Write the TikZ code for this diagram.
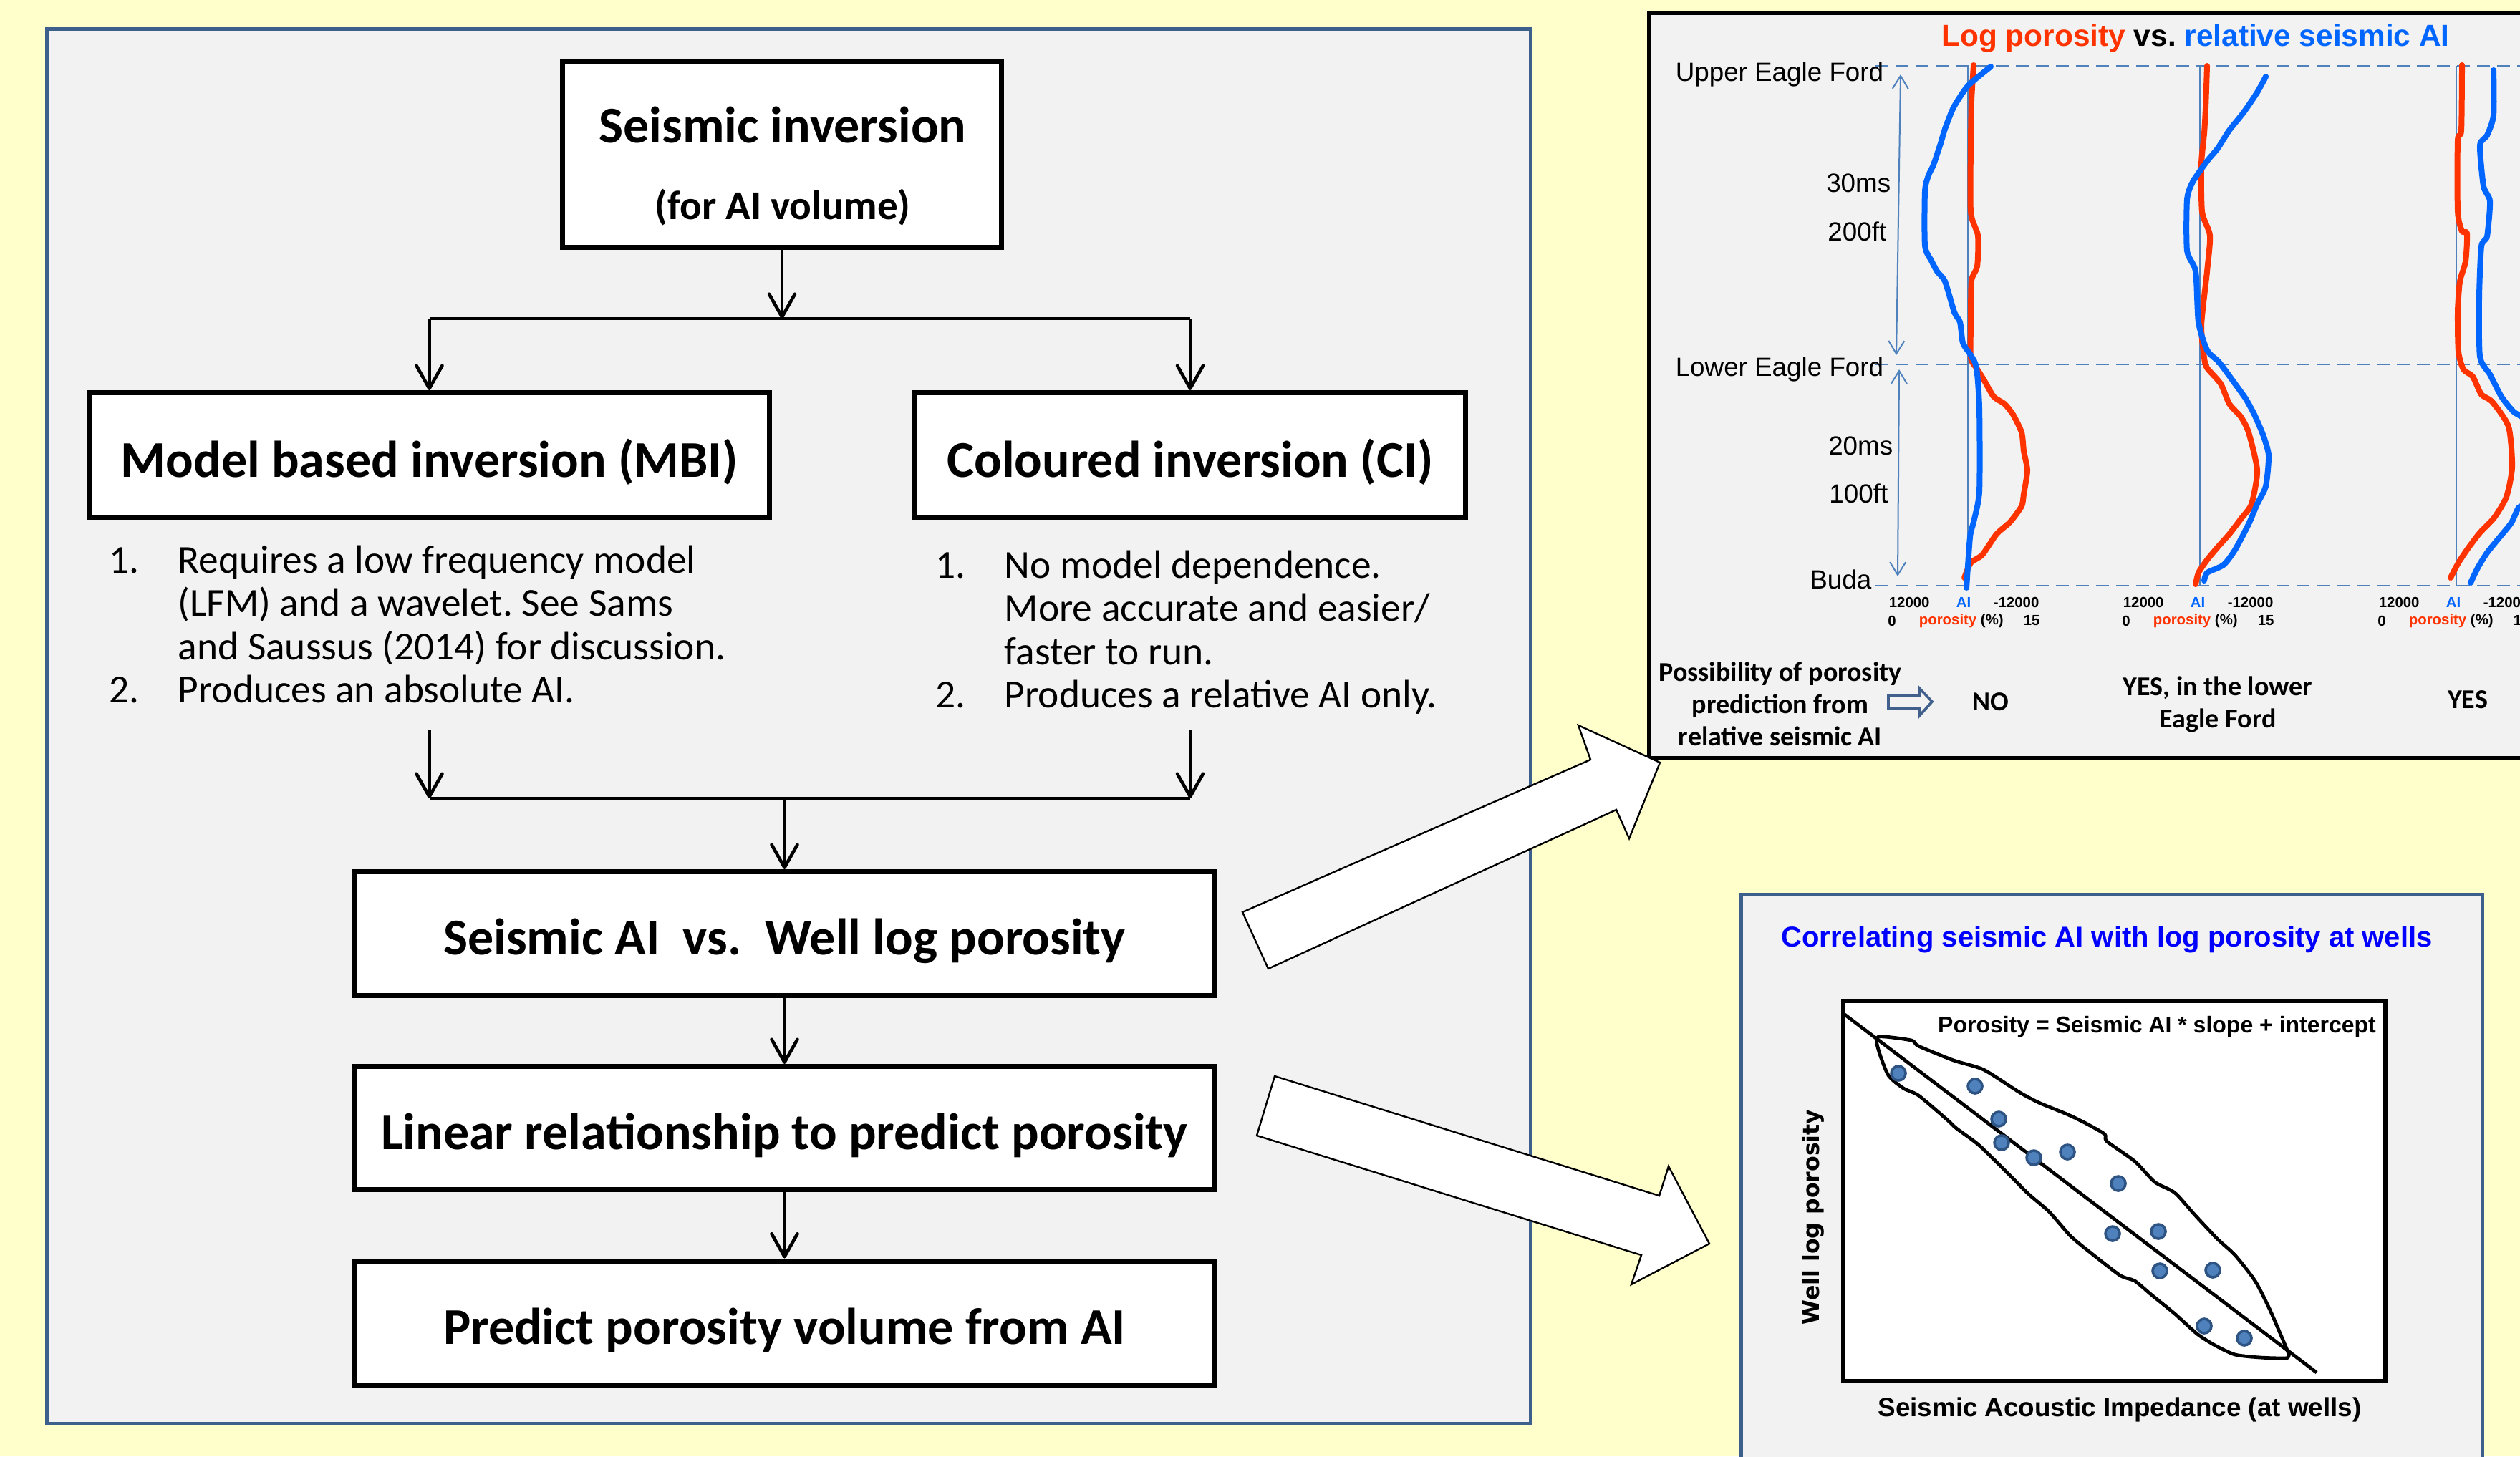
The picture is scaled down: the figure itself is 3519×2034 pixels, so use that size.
\documentclass[tikz,border=0pt]{standalone}
\usepackage{fontspec}
\setmainfont{Carlito}
\newfontfamily\arialf{Liberation Sans}
\newfontfamily\dejavuf{DejaVu Sans}
\usetikzlibrary{arrows.meta}
\definecolor{bgyellow}{HTML}{FFFFCC}
\definecolor{panelgray}{HTML}{F2F2F2}
\definecolor{panelblue}{HTML}{3C5F8C}
\definecolor{porored}{HTML}{FF3300}
\definecolor{aiblue}{HTML}{0066FF}
\definecolor{guideblue}{HTML}{4F81BD}
\definecolor{titleblue}{HTML}{0000FF}
\definecolor{dotfill}{HTML}{4F81BD}
\definecolor{dotedge}{HTML}{2E5484}
\definecolor{hollowblue}{HTML}{41618C}
\newcommand{\lowtext}[1]{\raisebox{-2.5pt}[\height][\depth]{#1}}
\frenchspacing
\begin{document}
\begin{tikzpicture}[x=0.25pt,y=-0.25pt,
  flowbox/.style={draw=black,line width=1.75pt,fill=white,inner sep=0pt,font=\fontsize{18}{21.6}\selectfont\bfseries},
  flowarrow/.style={line width=1.15pt,-{Straight Barb[length=8pt,width=9pt,round]}},
  flowline/.style={line width=1.05pt},
  listtext/.style={anchor=base west,inner sep=0pt,font=\fontsize{13.85}{15.125}\selectfont},
  zonelabel/.style={anchor=east,inner sep=0pt,font=\arialf\fontsize{9.2}{11}\selectfont},
  ticklabel/.style={inner sep=0pt,font=\arialf\bfseries\fontsize{5.1}{6}\selectfont},
  verdict/.style={inner sep=0pt,align=center,font=\fontsize{9.5}{11.2}\selectfont\bfseries},
  redcurve/.style={porored,line width=2pt,line join=round,line cap=round},
  bluecurve/.style={aiblue,line width=2pt,line join=round,line cap=round},
  zoneline/.style={guideblue,line width=0.6pt,dash pattern=on 4.5pt off 2.5pt},
  trackline/.style={guideblue,line width=0.5pt},
  spanarrow/.style={guideblue,line width=0.5pt,{Straight Barb[length=4.5pt,width=5.5pt]}-{Straight Barb[length=4.5pt,width=5.5pt]}},
  bigarrow/.style={draw=black,line width=0.6pt,fill=white,line join=miter},
  welldot/.style={circle,fill=dotfill,draw=dotedge,line width=0.9pt,minimum size=5pt,inner sep=0pt}
]
\useasboundingbox (0,0) rectangle (3519,2034);
\begin{scope}
\clip (0,0) rectangle (3519,2034);
\fill[bgyellow] (0,0) rectangle (3519,2034);

% ---------------- left panel ----------------
\draw[panelblue,line width=1.25pt,fill=panelgray] (65,40) rectangle (2137,1988);

\node[flowbox,minimum width=153.25pt,minimum height=65pt] (inv) at (1092,215.5) {};
\node[inner sep=0pt,font=\fontsize{18}{21.6}\selectfont\bfseries] (invtitle) at (1093,175) {Seismic inversion};
\node[inner sep=0pt,font=\fontsize{14.3}{17}\selectfont\bfseries] (invsub) at (1093,290) {(for AI volume)};

\node[flowbox,minimum width=237.5pt,minimum height=43.5pt] (mbi) at (599.5,635.5) {\lowtext{Model based inversion (MBI)}};
\node[flowbox,minimum width=192.25pt,minimum height=43.5pt] (ci) at (1662,635.5) {\lowtext{Coloured inversion (CI)}};

\node[listtext] (mbilist) at (152,800) {\begin{tabular}[t]{@{}p{24pt}@{}l@{}}
1. & Requires a low frequency model\\
   & (LFM) and a wavelet. See Sams\\
   & and Saussus (2014) for discussion.\\
2. & Produces an absolute AI.
\end{tabular}};
\node[listtext] (cilist) at (1306,807) {\begin{tabular}[t]{@{}p{24pt}@{}l@{}}
1. & No model dependence.\\
   & More accurate and easier/\\
   & faster to run.\\
2. & Produces a relative AI only.
\end{tabular}};

\node[flowbox,minimum width=300.5pt,minimum height=43.25pt] (avw) at (1095.5,1304) {\lowtext{Seismic AI~ vs.~ Well log porosity}};
\node[flowbox,minimum width=300.5pt,minimum height=43pt] (lin) at (1095.5,1575.5) {\lowtext{Linear relationship to predict porosity}};
\node[flowbox,minimum width=300.5pt,minimum height=43.25pt] (pred) at (1095.5,1847.5) {\lowtext{Predict porosity volume from AI}};

\coordinate (topjoin) at (1092,445);
\coordinate (leftsplit) at (599.5,445);
\coordinate (rightsplit) at (1662,445);
\draw[flowarrow] (inv.south) -- (topjoin);
\draw[flowline] (leftsplit) -- (rightsplit);
\draw[flowarrow] (leftsplit) -- (mbi.north);
\draw[flowarrow] (rightsplit) -- (ci.north);

\coordinate (mbiout) at (599.5,1020);
\coordinate (ciout) at (1662,1020);
\coordinate (leftmerge) at (599.5,1115);
\coordinate (rightmerge) at (1662,1115);
\coordinate (midmerge) at (1095.5,1115);
\draw[flowarrow] (mbiout) -- (leftmerge);
\draw[flowarrow] (ciout) -- (rightmerge);
\draw[flowline] (leftmerge) -- (rightmerge);
\draw[flowarrow] (midmerge) -- (avw.north);
\draw[flowarrow] (avw.south) -- (lin.north);
\draw[flowarrow] (lin.south) -- (pred.north);

% ---------------- top-right panel ----------------
\draw[black,line width=1.4pt,fill=panelgray] (2303,18) rectangle (3600,1059);
\node[inner sep=0pt,font=\arialf\bfseries\fontsize{10.6}{12.7}\selectfont] (logtitle) at (3066,54)
  {\textcolor{porored}{Log porosity} vs. \textcolor{aiblue}{relative seismic AI}};

\draw[zoneline] (2619,92) -- (3600,92);
\draw[zoneline] (2619,509) -- (3600,509);
\draw[zoneline] (2619,818) -- (3600,818);
\draw[trackline] (2748,92) -- (2748,818);
\draw[trackline] (3072,92) -- (3072,818);
\draw[trackline] (3430,92) -- (3430,818);
\draw[spanarrow] (2654,104) -- (2648,496);
\draw[spanarrow] (2652,516) -- (2650,805);

\node[zonelabel] (upperef) at (2631,104) {Upper Eagle Ford};
\node[zonelabel] (thirtyms) at (2641,256) {30ms};
\node[zonelabel] (twohundredft) at (2635,323) {200ft};
\node[zonelabel] (loweref) at (2631,516) {Lower Eagle Ford};
\node[zonelabel] (twentyms) at (2644,623) {20ms};
\node[zonelabel] (hundredft) at (2637,689) {100ft};
\node[zonelabel] (buda) at (2614,809) {Buda};

% track 1
\draw[redcurve] plot[smooth,tension=0.4] coordinates {(2756,91) (2753,140) (2752,200) (2752,296) (2762,329) (2761,372) (2753,392) (2752,450) (2752,500) (2760,514) (2770,530) (2784,554) (2799,564) (2811,579) (2823,604) (2826,630) (2831,657) (2826,690) (2823,707) (2807,729) (2788,746) (2768,775) (2752,786) (2743,807)};
\draw[bluecurve] plot[smooth,tension=0.4] coordinates {(2780,93) (2748,120) (2728,150) (2716,180) (2710,200) (2700,230) (2693,245) (2688,267) (2688,343) (2697,364) (2705,379) (2716,393) (2729,436) (2737,450) (2741,479) (2752,496) (2760,514) (2764,571) (2764,686) (2756,729) (2751,750) (2746,821)};
% track 2
\draw[redcurve] plot[smooth,tension=0.4] coordinates {(3082,92) (3080,150) (3078,186) (3074,229) (3075,296) (3086,329) (3082,379) (3074,454) (3078,500) (3082,514) (3101,536) (3113,564) (3129,582) (3140,604) (3152,657) (3144,704) (3129,725) (3113,746) (3097,764) (3082,782) (3070,800) (3066,816)};
\draw[bluecurve] plot[smooth,tension=0.4] coordinates {(3164,107) (3152,129) (3133,157) (3113,182) (3097,207) (3082,225) (3062,254) (3054,279) (3054,350) (3066,379) (3070,450) (3082,489) (3097,504) (3105,514) (3121,536) (3136,557) (3148,579) (3160,607) (3168,636) (3164,679) (3152,704) (3140,732) (3121,768) (3105,789) (3082,800) (3078,811)};
% track 3
\draw[redcurve] plot[smooth,tension=0.4] coordinates {(3438,91) (3437,182) (3432,196) (3432,295) (3438,323) (3445,326) (3443,365) (3435,393) (3432,435) (3433,491) (3440,516) (3453,526) (3465,551) (3480,561) (3503,596) (3508,652) (3500,694) (3483,723) (3463,744) (3447,765) (3433,786) (3422,807)};
\draw[bluecurve] plot[smooth,tension=0.4] coordinates {(3482,98) (3482,161) (3473,189) (3463,203) (3468,260) (3477,281) (3473,330) (3465,344) (3462,414) (3463,498) (3477,523) (3493,554) (3510,575) (3530,590) (3545,640) (3530,700) (3517,709) (3507,730) (3490,751) (3473,772) (3460,793) (3450,814)};

\foreach \dx/\n in {0/one,327/two,684/three}{
  \node[ticklabel,anchor=west] (aimax\n) at (2637+\dx,841) {12000};
  \node[ticklabel,text=aiblue] (ailab\n) at (2742+\dx,841) {AI};
  \node[ticklabel,anchor=west] (aimin\n) at (2783+\dx,841) {-12000};
  \node[ticklabel] (pormin\n) at (2642+\dx,867) {0};
  \node[ticklabel,anchor=west] (porlab\n) at (2679+\dx,867) {\textcolor{porored}{porosity} (\%)};
  \node[ticklabel,anchor=west] (pormax\n) at (2825+\dx,867) {15};
}

\node[verdict] (possib) at (2486,983) {Possibility of porosity\\prediction from\\relative seismic AI};
\draw[hollowblue,line width=0.9pt,line join=miter] (2637,971) -- (2680,971) -- (2680,961) -- (2698,980) -- (2680,1000) -- (2680,989) -- (2637,989) -- cycle;
\node[verdict] (vno) at (2780,980) {NO};
\node[verdict,font=\fontsize{9.5}{11.25}\selectfont\bfseries] (vlower) at (3097,984) {YES, in the lower\\Eagle Ford};
\node[verdict] (vyes) at (3446,977) {YES};

% ---------------- bottom-right panel ----------------
\draw[panelblue,line width=1.25pt,fill=panelgray] (2431,1249) rectangle (3466,2100);
\node[inner sep=0pt,text=titleblue,font=\arialf\bfseries\fontsize{10}{12}\selectfont] (corrtitle) at (2942,1312) {Correlating seismic AI with log porosity at wells};
\draw[black,line width=1.5pt,fill=white] (2574,1398) rectangle (3331,1929);
\node[inner sep=0pt,font=\arialf\bfseries\fontsize{8}{9.6}\selectfont] (equation) at (3012,1434) {Porosity = Seismic AI * slope + intercept};
\draw[black,line width=1.2pt] (2576,1417) -- (3235,1917);
\draw[black,line width=1.2pt,line join=round] plot[smooth cycle,tension=0.4] coordinates {(2623,1448) (2669,1453) (2679,1461) (2728,1481) (2770,1494) (2819,1525) (2847,1540) (2886,1556) (2911,1568) (2939,1584) (2942,1594) (2981,1622) (3009,1651) (3037,1666) (3065,1697) (3096,1730) (3121,1753) (3149,1789) (3170,1830) (3194,1886) (3196,1894) (3191,1897) (3156,1896) (3121,1892) (3093,1879) (3068,1863) (3037,1835) (3005,1809) (2981,1789) (2960,1781) (2911,1743) (2890,1725) (2861,1692) (2833,1668) (2805,1640) (2763,1599) (2732,1576) (2718,1563) (2679,1530) (2658,1520) (2637,1502) (2623,1466)};
\foreach \px/\py [count=\k] in {2651/1499,2758/1517,2791/1563,2795/1596,2840/1617,2887/1609,2958/1653,2950/1723,3014/1720,3016/1775,3090/1774,3078/1852,3134/1869}{
  \node[welldot] (well\k) at (\px,\py) {};
}
\node[inner sep=0pt,font=\arialf\bfseries\fontsize{9.2}{11}\selectfont] (xlabel) at (2960,1969) {Seismic Acoustic Impedance (at wells)};
\node[inner sep=0pt,rotate=90,font=\dejavuf\bfseries\fontsize{7.9}{9.5}\selectfont] (ylabel) at (2532,1700) {Well log porosity};

% ---------------- big hollow arrows ----------------
\draw[bigarrow] (1735,1274) -- (1771,1353) -- (2257,1131) -- (2275,1171) -- (2318,1065) -- (2204,1013) -- (2221,1061) -- cycle;
\draw[bigarrow] (1780,1503) -- (2317,1670) -- (2330,1629) -- (2387,1737) -- (2278,1794) -- (2292,1753) -- (1755,1586) -- cycle;
\end{scope}
\end{tikzpicture}
\end{document}
